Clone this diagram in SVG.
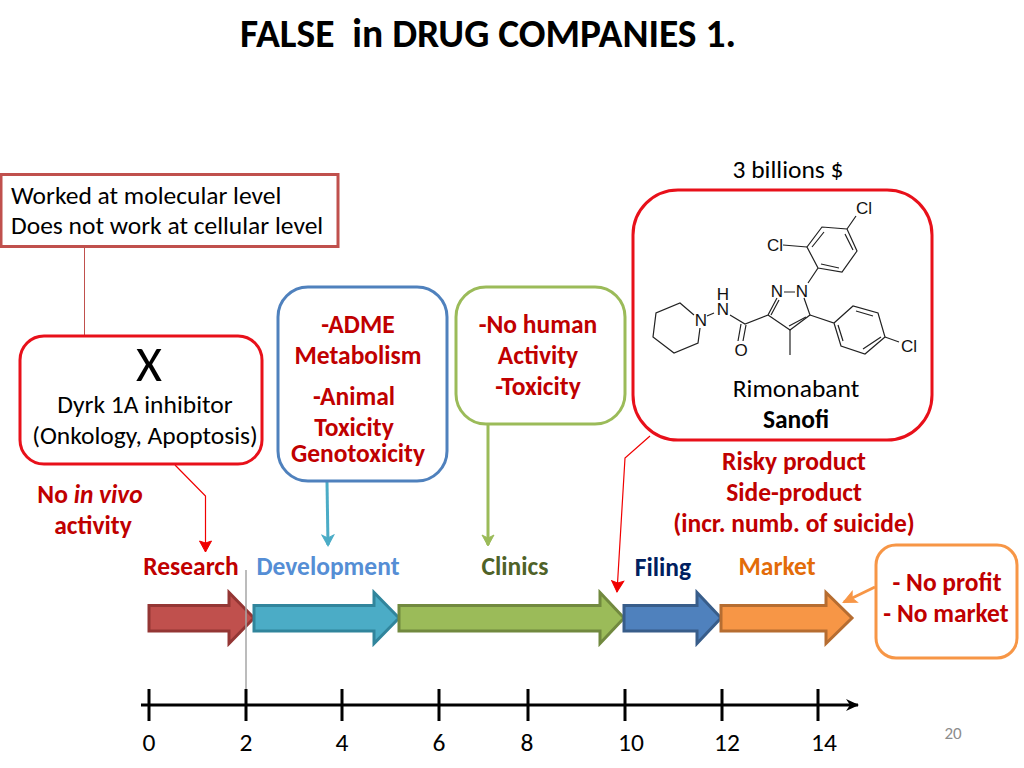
<svg xmlns="http://www.w3.org/2000/svg" width="1024" height="768" viewBox="0 0 1024 768">
<style>
text{font-family:Carlito,Lato,"Open Sans","Liberation Sans",sans-serif;text-anchor:middle}
.b{font-size:25.500px;fill:#000}
.r{font-size:25.500px;font-weight:700;fill:#c00000}
.box{fill:#fff;stroke-width:3}
.arrow{stroke-width:3;stroke-linejoin:miter}
.hd{font-size:25.500px;font-weight:700}
.mol{fill:none;stroke:#222;stroke-width:1.2}
.atom{font-family:"Liberation Sans",sans-serif;font-size:17px;fill:#111}
.tick{stroke:#000;stroke-width:3;fill:none}
.n{font-size:25.500px;fill:#000}
</style>
<defs>
<marker id="mr" markerUnits="userSpaceOnUse" markerWidth="14" markerHeight="14" refX="12" refY="7" orient="auto"><path d="M1 1L12 7L1 13L3 7Z" fill="#f00000" stroke="#f00000" stroke-width="1"/></marker>
<marker id="mt" markerUnits="userSpaceOnUse" markerWidth="14" markerHeight="14" refX="11" refY="7" orient="auto"><path d="M1 1L12 7L1 13L4 7Z" fill="#4bacc6" stroke="#4bacc6"/></marker>
<marker id="mg" markerUnits="userSpaceOnUse" markerWidth="14" markerHeight="14" refX="11" refY="7" orient="auto"><path d="M1 1L12 7L1 13L4 7Z" fill="#9bbb59" stroke="#9bbb59"/></marker>
<marker id="mo" markerUnits="userSpaceOnUse" markerWidth="16" markerHeight="16" refX="13" refY="8" orient="auto"><path d="M1 2L14 8L1 14L4 8Z" fill="#f79646" stroke="#f79646"/></marker>
<marker id="mk" markerUnits="userSpaceOnUse" markerWidth="16" markerHeight="16" refX="13" refY="8" orient="auto"><path d="M1 2L14 8L1 14L5 8Z" fill="#000"/></marker>
</defs>
<rect width="1024" height="768" fill="#fff"/>
<text id="title" x="488" y="47" style="font-size:39.500px;font-weight:700;white-space:pre">FALSE  in DRUG COMPANIES 1.</text>
<g id="connectors" fill="none">
<path d="M84.500 247V336" stroke="#c0504d" stroke-width="1"/>
<path d="M175 465L205.500 496V552" stroke="#f00000" stroke-width="1.2" marker-end="url(#mr)"/>
<path d="M327 482L328 545" stroke="#4bacc6" stroke-width="3" marker-end="url(#mt)"/>
<path d="M488 424V545" stroke="#9bbb59" stroke-width="3" marker-end="url(#mg)"/>
<path d="M650 436L625 458L617 592" stroke="#f00000" stroke-width="1.2" marker-end="url(#mr)"/>
<path d="M875 587L844 602" stroke="#f79646" stroke-width="3" marker-end="url(#mo)"/>
</g>
<g id="worked"><rect class="box" x="1" y="174.500" width="337" height="72" stroke="#c0504d"/>
<text class="b" x="11" y="203.500" style="text-anchor:start">Worked at molecular level</text>
<text class="b" x="11" y="234" style="text-anchor:start">Does not work at cellular level</text></g>
<g id="dyrk"><rect class="box" x="20" y="336" width="242" height="128" rx="24" stroke="#e8101a"/>
<text x="149" y="381" style="font-size:50px">X</text>
<text class="b" x="145" y="413">Dyrk 1A inhibitor</text>
<text class="b" x="145" y="444">(Onkology, Apoptosis)</text></g>
<g id="invivo"><text class="r" x="90" y="503">No <tspan font-style="italic">in vivo</tspan></text>
<text class="r" x="93" y="534">activity</text></g>
<g id="adme"><rect class="box" x="278" y="287" width="169" height="194" rx="30" stroke="#4f81bd"/>
<text class="r" x="358" y="333">-ADME</text>
<text class="r" x="358" y="364">Metabolism</text>
<text class="r" x="354" y="405">-Animal</text>
<text class="r" x="354" y="436">Toxicity</text>
<text class="r" x="358" y="462">Genotoxicity</text></g>
<g id="human"><rect class="box" x="456" y="287" width="169" height="137" rx="30" stroke="#9bbb59"/>
<text class="r" x="538" y="333">-No human</text>
<text class="r" x="538" y="364">Activity</text>
<text class="r" x="538" y="395">-Toxicity</text></g>
<text id="billions" class="b" x="788" y="178">3 billions $</text>
<g id="rimonabant"><rect class="box" x="633" y="190" width="299" height="250" rx="45" stroke="#e8101a"/>
<g class="mol">
<path d="M694 315L680 303L656 313L653 337L674 353L698 343L700 328"/>
<path d="M707 316L714 313"/>
<path d="M730 315L745 324L768 315L777 298M771 315L779 300"/>
<path d="M746 325L743 341M741 324L738 341"/>
<path d="M784 292H795M804 298L810 315L790 330L768 315"/>
<path d="M806 317L789 326"/>
<path d="M790 330V355"/>
<path d="M810 315L834 323L853 306L878 313L885 337L865 354L841 346L834 323"/>
<path d="M856 311L873 316M881 337L863 349M843 341L838 325"/>
<path d="M885 337L899 342"/>
<path d="M808 283L818 268L807 247L822 227L847 229L857 251L842 272L818 268"/>
<path d="M812 247L824 232M845 234L853 250M839 268L821 264"/>
<path d="M783 245L807 247M847 229L856 216"/>
</g>
<text class="atom" x="701" y="326">N</text><text class="atom" x="723" y="300">H</text><text class="atom" x="723" y="315">N</text>
<text class="atom" x="741" y="356">O</text><text class="atom" x="777" y="297">N</text><text class="atom" x="802" y="297">N</text>
<text class="atom" x="775" y="251">Cl</text><text class="atom" x="864" y="214">Cl</text><text class="atom" x="909" y="352">Cl</text>
<text class="b" x="796" y="397">Rimonabant</text>
<text class="b" x="796" y="428" font-weight="700">Sanofi</text></g>
<g id="risky"><text class="r" x="794" y="470">Risky product</text>
<text class="r" x="794" y="501">Side-product</text>
<text class="r" x="794" y="532">(incr. numb. of suicide)</text></g>
<g id="noprofit"><rect class="box" x="876" y="545" width="141" height="113" rx="20" stroke="#f79646"/>
<text class="r" x="947" y="591">- No profit</text>
<text class="r" x="946" y="622">- No market</text></g>
<g id="labels"><text class="hd" x="191" y="575" fill="#c00000">Research</text>
<text class="hd" x="328" y="575" fill="#558ed5">Development</text>
<text class="hd" x="515" y="575" fill="#4f6228">Clinics</text>
<text class="hd" x="663" y="576" fill="#002060">Filing</text>
<text class="hd" x="777" y="575" fill="#e36c09">Market</text></g>
<g id="stages">
<path class="arrow" id="research" d="M149 605.500H229V592.500L254 618L229 643.500V631H149Z" fill="#c0504d" stroke="#943634"/>
<path class="arrow" id="development" d="M254 605.500H374V592.500L399 618L374 643.500V631H254Z" fill="#4bacc6" stroke="#31859c"/>
<path class="arrow" id="clinics" d="M399 605.500H600V592.500L624 618L600 643.500V631H399Z" fill="#9bbb59" stroke="#71893f"/>
<path class="arrow" id="filing" d="M624 605.500H697V592.500L721 618L697 643.500V631H624Z" fill="#4f81bd" stroke="#385d8a"/>
<path class="arrow" id="market" d="M721 605.500H826V592.500L852 618L826 643.500V631H721Z" fill="#f79646" stroke="#b66d31"/>
</g>
<g id="timeline">
<path d="M246 570V705" stroke="#a6a6a6" stroke-width="1.500" fill="none"/>
<path d="M141 705H858" stroke="#000" stroke-width="3" fill="none" marker-end="url(#mk)"/>
<path class="tick" d="M149 689V721M246 689V721M342 689V721M439 689V721M528 689V721M625 689V721M722 689V721M818 689V721"/>
<text class="n" x="149" y="751">0</text><text class="n" x="246" y="751">2</text><text class="n" x="342" y="751">4</text><text class="n" x="439" y="751">6</text><text class="n" x="527" y="751">8</text><text class="n" x="631" y="751">10</text><text class="n" x="727" y="751">12</text><text class="n" x="824" y="751">14</text>
</g>
<text id="page" x="953" y="739" style="font-size:17px" fill="#8c8c8c">20</text>
</svg>
